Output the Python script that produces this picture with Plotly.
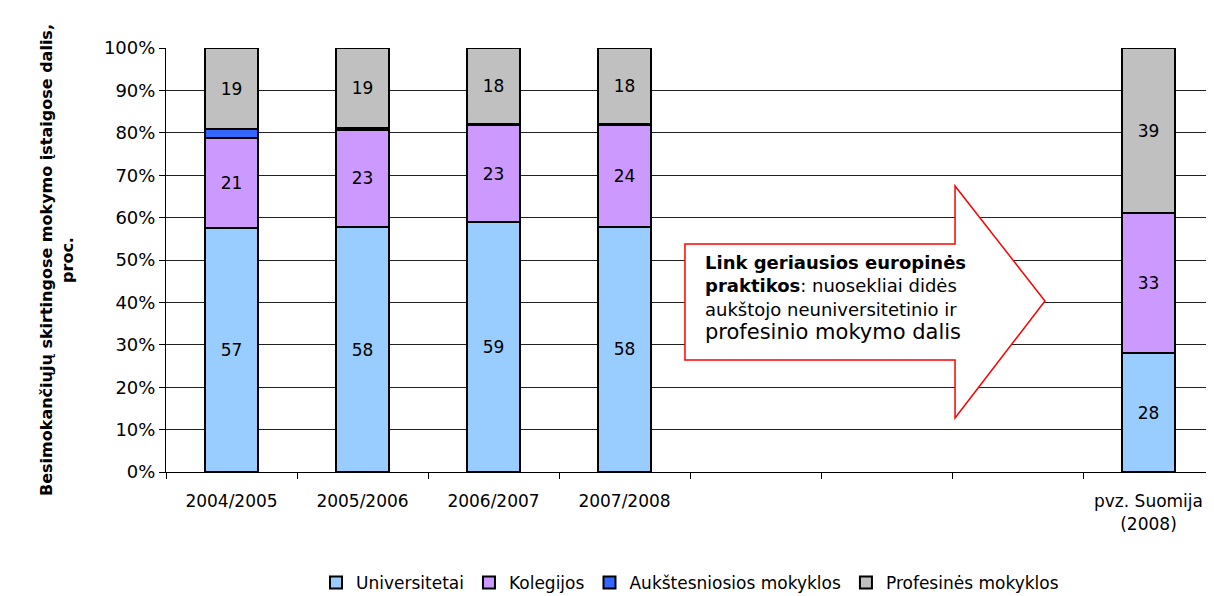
import plotly.graph_objects as go

categories = ['2004/2005', '2005/2006', '2006/2007', '2007/2008', 'pvz. Suomija<br>(2008)']
all_slots = ['2004/2005', '2005/2006', '2006/2007', '2007/2008', ' ', '  ', '   ', 'pvz. Suomija<br>(2008)']

universitetai = [57, 58, 59, 58, 28]
kolegijos = [21, 23, 23, 24, 33]
aukstesniosios = [2, 0.4, 0.2, 0.3, 0]
profesines = [19, 19, 18, 18, 39]

series = [
    ('Universitetai', universitetai, '#99CCFF', True),
    ('Kolegijos', kolegijos, '#CC99FF', True),
    ('Aukštesniosios mokyklos', aukstesniosios, '#3366FF', False),
    ('Profesinės mokyklos', profesines, '#C0C0C0', True),
]

font = 'DejaVu Sans, Arial, sans-serif'

fig = go.Figure()
for name, vals, color, labelled in series:
    fig.add_trace(go.Bar(
        name=name, x=categories, y=vals,
        marker=dict(color=color, line=dict(color='black', width=2)),
        text=[str(v) for v in vals] if labelled else None,
        textposition='inside' if labelled else 'none',
        insidetextanchor='middle', textangle=0,
        textfont=dict(size=17, color='black', family=font),
        width=0.4,
    ))

# page body adds an 8px offset, so the figure is 8px smaller and margins shifted
off = 8
x0, x1, y0, y1 = 166, 1214, 48, 472
def px(x):
    return (x - x0) / (x1 - x0)
def py(y):
    return (y1 - y) / (y1 - y0)

# arrow callout
pts = [(685, 244), (955, 244), (955, 186), (1045, 301), (955, 418), (955, 360), (685, 360)]
path = 'M ' + ' L '.join(f'{px(a):.4f},{py(b):.4f}' for a, b in pts) + ' Z'
fig.add_shape(type='path', path=path, xref='paper', yref='paper',
              line=dict(color='#FF0000', width=1.5), fillcolor='white', layer='above')

fig.add_annotation(
    xref='paper', yref='paper', x=px(703), y=py(250), xanchor='left', yanchor='top',
    align='left', showarrow=False,
    text="<b>Link geriausios europinės<br>praktikos</b>: nuosekliai didės<br>aukštojo neuniversitetinio ir<br>"
         "<span style='font-size:21px'>profesinio mokymo dalis</span>",
    font=dict(size=18, color='black', family=font),
)

fig.update_layout(
    barmode='stack', barnorm='percent',
    width=1214 - off, height=596 - off,
    margin=dict(l=x0 - off, r=0, t=y0 - off, b=596 - y1, autoexpand=False),
    paper_bgcolor='white', plot_bgcolor='white',
    font=dict(family=font, size=17, color='black'),
    showlegend=True,
    legend=dict(orientation='h', x=0.5, xanchor='center', y=py(583), yanchor='middle',
                font=dict(size=17), traceorder='normal', itemwidth=30),
    xaxis=dict(type='category', categoryorder='array', categoryarray=all_slots,
               range=[-0.5, 7.5], showline=True, linecolor='black', linewidth=1,
               ticks='outside', tickson='boundaries', ticklen=6, tickcolor='black',
               showgrid=False, tickfont=dict(size=17), ticklabelstandoff=14),
    yaxis=dict(range=[0, 100], dtick=10, ticksuffix='%', showline=True, linecolor='black',
               linewidth=1, ticks='outside', ticklen=6, tickcolor='black',
               showgrid=True, gridcolor='#222', gridwidth=1, tickfont=dict(size=18),
               title=dict(text='<b>Besimokančiųjų skirtingose mokymo įstaigose dalis,<br>proc.</b>',
                          font=dict(size=16), standoff=26)),
)

fig.write_html('out.html')
